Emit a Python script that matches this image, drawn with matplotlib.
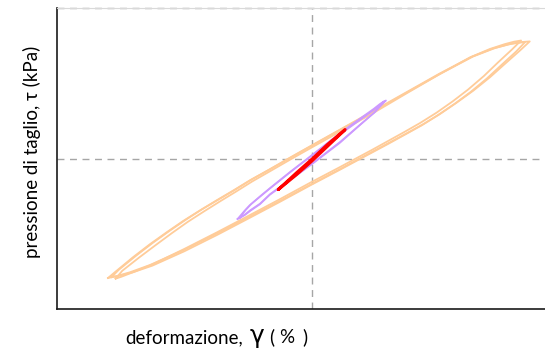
import matplotlib
matplotlib.use("Agg")
import matplotlib.pyplot as plt

# cyclic simple-shear test: shear strain (%) vs shear stress (kPa)
# large-strain loop, three cycles (loading branch, then unloading branch)
big_up_x = [
    [-0.400, -0.386, -0.351, -0.318, -0.284, -0.253, -0.220, -0.186, -0.155, -0.122, -0.088,
     -0.043, 0.000, 0.055, 0.120, 0.186, 0.251, 0.316, 0.359, 0.392, 0.412, 0.427],
    [-0.393, -0.379, -0.345, -0.312, -0.279, -0.248, -0.216, -0.182, -0.151, -0.119, -0.085,
     -0.041, 0.002, 0.057, 0.121, 0.186, 0.250, 0.313, 0.354, 0.385, 0.403, 0.418],
    [-0.385, -0.372, -0.339, -0.306, -0.274, -0.244, -0.212, -0.179, -0.149, -0.117, -0.084,
     -0.040, 0.003, 0.058, 0.122, 0.185, 0.248, 0.310, 0.349, 0.378, 0.396, 0.410],
]
big_up_y = [
    [-39.7, -37.7, -32.8, -28.5, -24.4, -20.8, -17.3, -13.8, -10.7, -7.3, -4.1,
     0.2, 4.3, 9.5, 15.6, 21.9, 28.1, 33.9, 36.7, 38.2, 38.7, 38.9],
    [-39.4, -37.0, -32.3, -28.0, -24.0, -20.4, -16.9, -13.5, -10.4, -7.0, -3.8,
     0.5, 4.6, 9.8, 15.9, 22.1, 28.2, 33.8, 36.5, 37.9, 38.4, 38.7],
    [-39.9, -37.3, -32.9, -28.7, -24.7, -21.1, -17.6, -14.1, -11.0, -7.6, -4.4,
     -0.1, 4.0, 9.2, 15.3, 21.6, 27.8, 33.6, 36.4, 38.0, 38.8, 39.2],
]
big_dn_x = [
    [0.427, 0.408, 0.378, 0.349, 0.316, 0.284, 0.251, 0.218, 0.186, 0.153, 0.120,
     0.088, 0.055, 0.000, -0.063, -0.122, -0.186, -0.253, -0.318, -0.357, -0.386, -0.400],
    [0.418, 0.400, 0.371, 0.343, 0.311, 0.280, 0.247, 0.215, 0.183, 0.151, 0.118,
     0.086, 0.053, -0.002, -0.064, -0.122, -0.185, -0.250, -0.313, -0.351, -0.379, -0.393],
    [0.410, 0.392, 0.364, 0.337, 0.306, 0.276, 0.244, 0.212, 0.181, 0.149, 0.117,
     0.085, 0.052, -0.003, -0.065, -0.123, -0.186, -0.251, -0.312, -0.348, -0.374, -0.385],
]
big_dn_y = [
    [38.9, 35.9, 31.4, 27.0, 22.5, 18.6, 14.8, 11.4, 8.4, 5.4, 2.4,
     -0.5, -3.5, -8.4, -14.1, -19.3, -24.9, -30.5, -35.4, -37.8, -39.2, -39.7],
    [38.7, 35.5, 31.0, 26.6, 22.1, 18.2, 14.4, 11.0, 8.0, 5.0, 2.0,
     -0.9, -3.9, -8.8, -14.5, -19.7, -25.3, -30.8, -35.6, -37.8, -39.0, -39.4],
    [39.2, 36.2, 31.8, 27.4, 22.9, 19.0, 15.2, 11.8, 8.8, 5.8, 2.8,
     -0.1, -3.1, -8.0, -13.7, -18.9, -24.5, -30.1, -35.1, -37.6, -39.3, -39.9],
]

# medium-strain loop, two cycles
mid_up_x = [
    [-0.146, -0.133, -0.122, -0.102, -0.082, -0.043, 0.000, 0.055, 0.094, 0.124, 0.137, 0.145],
    [-0.142, -0.130, -0.119, -0.100, -0.080, -0.041, 0.001, 0.054, 0.092, 0.121, 0.133, 0.141],
]
mid_up_y = [
    [-20.1, -17.5, -15.5, -12.7, -9.9, -4.6, 1.0, 8.0, 12.8, 16.5, 18.3, 19.3],
    [-19.8, -17.1, -15.1, -12.3, -9.5, -4.2, 1.3, 8.3, 13.0, 16.5, 18.1, 19.0],
]
mid_dn_x = [
    [0.145, 0.133, 0.124, 0.094, 0.055, 0.000, -0.043, -0.082, -0.102, -0.122, -0.133, -0.146],
    [0.141, 0.130, 0.121, 0.092, 0.054, -0.001, -0.044, -0.083, -0.102, -0.121, -0.131, -0.142],
]
mid_dn_y = [
    [19.3, 17.2, 15.5, 11.2, 5.5, -1.7, -7.0, -11.8, -15.0, -17.3, -18.8, -20.1],
    [19.0, 16.8, 15.1, 10.8, 5.1, -2.0, -7.3, -12.1, -15.2, -17.4, -18.7, -19.8],
]

# small-strain loop
small_x = [-0.066, -0.030, 0.000, 0.030, 0.065, 0.030, 0.000, -0.030, -0.066]
small_y = [-10.3, -4.7, -0.2, 4.6, 9.6, 4.0, -0.8, -5.3, -10.3]

fig = plt.figure(figsize=(5.45, 3.52), dpi=100)
ax = fig.add_axes([57 / 545, 1 - 309 / 352, 510 / 545, 301 / 352])

for ux, uy, dx, dy in zip(big_up_x, big_up_y, big_dn_x, big_dn_y):
    ax.plot(ux + dx, uy + dy, color="#ffcc99", lw=1.3, solid_joinstyle="round")
for ux, uy, dx, dy in zip(mid_up_x, mid_up_y, mid_dn_x, mid_dn_y):
    ax.plot(ux + dx, uy + dy, color="#cc99ff", lw=1.2, solid_joinstyle="round")
ax.plot(small_x, small_y, color="#ff0000", lw=2.2, solid_capstyle="round")

ax.set_xlim(-0.5, 0.5)
ax.set_ylim(-50, 50)

# zero lines and top gridline
grid_kw = dict(color="#a6a6a6", lw=1.0, dashes=(5, 4), zorder=0)
ax.axhline(0, **grid_kw)
ax.axvline(0, **grid_kw)
ax.axhline(50, clip_on=False, **grid_kw)

ax.set_xticks([])
ax.set_yticks([])
for side in ("left", "bottom"):
    ax.spines[side].set_color("#1a1a1a")
    ax.spines[side].set_linewidth(1.2)
ax.spines["top"].set_color("#d9d9d9")
ax.spines["right"].set_visible(False)

font = ["Lato", "DejaVu Sans"]
base = 1 - 343 / 352
fig.text(125 / 545, base, "deformazione,", family=font, fontsize=13.5, va="baseline")
fig.text(250 / 545, base, "\u03b3", family="DejaVu Sans", fontsize=18, va="baseline")
fig.text(269 / 545, base, "(", family=font, fontsize=13.5, va="baseline")
fig.text(279 / 545, base, "%", family=font, fontsize=13.5, va="baseline")
fig.text(302 / 545, base, ")", family=font, fontsize=13.5, va="baseline")

fig.text(31.5 / 545, 1 - 152 / 352, "pressione di taglio, \u03c4 (kPa)", family=font,
         fontsize=13.5, rotation=90, va="center", ha="center")

fig.savefig("out.png", dpi=100)
